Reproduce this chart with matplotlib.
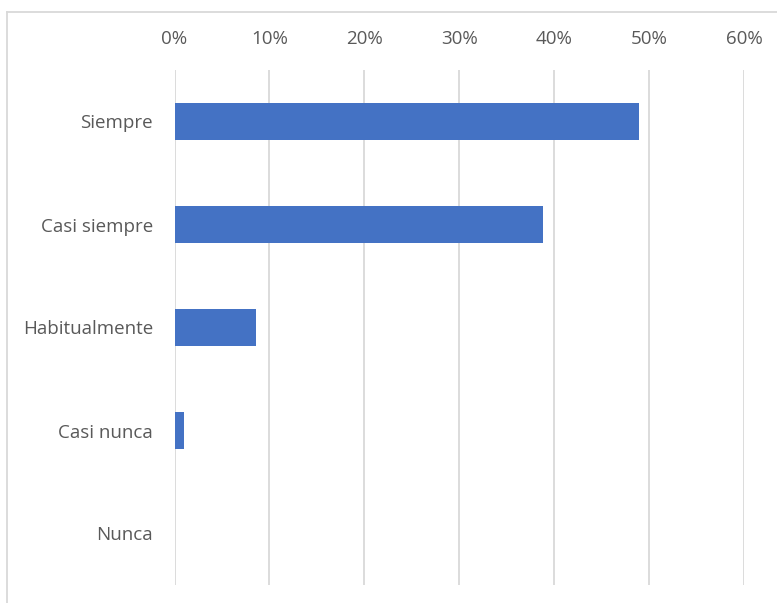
import matplotlib
matplotlib.use("Agg")
import matplotlib.pyplot as plt
from matplotlib.ticker import PercentFormatter

categories = ["Siempre", "Casi siempre", "Habitualmente", "Casi nunca", "Nunca"]
values = [48.9, 38.8, 8.6, 1.0, 0.0]
ticks = [0, 10, 20, 30, 40, 50, 60]

plt.rcParams['font.family'] = ['Open Sans', 'DejaVu Sans']

fig = plt.figure(figsize=(7.77, 6.03), dpi=100)
# plot area in pixels: x 174.5..744, y 70..585
ax = fig.add_axes([174.5 / 777, 1 - 585 / 603, (744 - 174.5) / 777, (585 - 70) / 603])

y = list(range(len(categories)))
ax.barh(y, values, height=0.36, color="#4472C4", zorder=3)

ax.set_xlim(0, 60)
ax.set_ylim(len(categories) - 0.5, -0.5)
ax.set_yticks(y)
ax.set_yticklabels(categories)
ax.set_xticks(ticks)
ax.xaxis.set_major_formatter(PercentFormatter(decimals=0))
ax.xaxis.tick_top()
ax.tick_params(axis="both", length=0, labelsize=13.5, colors="#595959")
ax.tick_params(axis="x", pad=16)
ax.tick_params(axis="y", pad=15.5)
ax.grid(axis="x", color="#d9d9d9", linewidth=1.3, zorder=0)
for s in ax.spines.values():
    s.set_visible(False)

# chart border (only left and top visible in the crop)
fig.add_artist(plt.Line2D([7 / 777, 7 / 777], [0, 1 - 12 / 603], color="#d9d9d9", lw=1.3))
fig.add_artist(plt.Line2D([7 / 777, 1], [1 - 12 / 603, 1 - 12 / 603], color="#d9d9d9", lw=1.3))

fig.savefig("out.png", dpi=100, facecolor="white")
